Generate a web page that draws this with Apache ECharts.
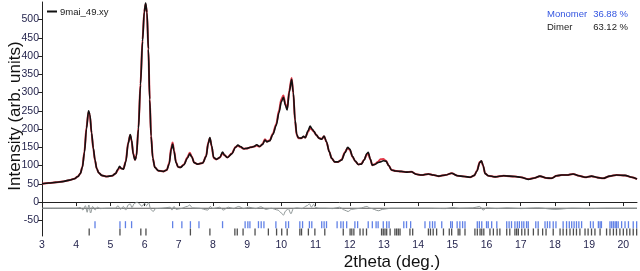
<!DOCTYPE html>
<html><head><meta charset="utf-8">
<script src="https://cdn.jsdelivr.net/npm/echarts@6/dist/echarts.min.js"></script>
<style>html,body{margin:0;padding:0;background:#fff}#c{width:640px;height:271px}</style>
</head><body><div id="c"></div>
<script>
const twoTheta = [3.00,3.20,3.40,3.60,3.80,3.95,4.05,4.12,4.18,4.24,4.30,4.36,4.40,4.45,4.50,4.55,4.60,4.66,4.75,4.90,5.05,5.15,5.22,5.27,5.32,5.38,5.45,5.52,5.58,5.62,5.67,5.72,5.76,5.82,5.88,5.94,5.99,6.03,6.07,6.11,6.15,6.19,6.24,6.30,6.40,6.55,6.65,6.72,6.78,6.82,6.86,6.92,6.98,7.05,7.15,7.25,7.32,7.38,7.45,7.55,7.70,7.80,7.86,7.91,7.96,8.02,8.10,8.20,8.28,8.34,8.42,8.55,8.66,8.73,8.80,8.90,9.00,9.10,9.20,9.28,9.36,9.45,9.52,9.58,9.66,9.75,9.85,9.93,10.00,10.06,10.12,10.17,10.23,10.30,10.35,10.40,10.45,10.50,10.58,10.65,10.70,10.78,10.84,10.90,10.95,11.02,11.10,11.18,11.25,11.32,11.40,11.47,11.56,11.66,11.76,11.86,11.94,12.00,12.08,12.16,12.25,12.34,12.42,12.50,12.54,12.60,12.66,12.74,12.82,12.90,12.98,13.06,13.14,13.22,13.35,13.50,13.65,13.80,13.95,14.10,14.30,14.45,14.60,14.80,14.98,15.15,15.35,15.52,15.64,15.72,15.80,15.85,15.90,15.96,16.05,16.25,16.50,16.83,17.00,17.22,17.40,17.56,17.75,17.90,18.05,18.20,18.35,18.53,18.70,18.88,19.07,19.25,19.41,19.60,19.80,20.05,20.25,20.40];
const observed = [50,52,54,56,60,64,70,78,95,135,200,250,240,190,148,115,92,80,73,70,72,78,90,98,92,90,110,160,185,170,130,115,125,200,320,440,520,545,520,420,280,180,120,95,86,84,88,105,145,159,140,108,96,95,102,120,132,124,108,104,107,125,160,177,155,122,117,122,137,128,122,132,150,156,152,146,147,150,152,157,152,158,170,165,168,185,210,245,275,287,265,252,300,336,300,225,185,176,175,180,176,195,208,200,194,184,175,172,181,165,138,120,110,110,115,135,150,145,125,112,103,104,115,133,136,118,101,103,108,110,113,112,100,88,85,84,82,83,76,74,77,74,71,74,79,72,70,68,73,85,108,113,100,78,72,69,72,70,68,62,66,71,66,65,72,74,74,77,72,68,71,67,65,71,74,73,68,63];
const calculated = [50,52,54,56,60,64,70,78,96,138,204,247,238,188,146,114,92,80,73,70,72,78,88,95,92,91,112,163,183,168,132,116,127,204,325,445,522,542,518,418,282,182,121,95,86,84,88,107,150,163,142,109,96,95,103,122,135,125,108,104,107,126,163,175,153,121,117,122,134,128,122,133,151,154,151,146,147,150,152,155,152,159,172,166,169,187,214,250,282,292,268,256,305,340,297,222,183,175,175,179,177,192,203,198,193,184,175,173,180,164,138,120,110,110,116,137,148,143,124,112,103,105,116,130,133,117,101,104,110,117,118,113,100,88,85,84,82,83,76,74,77,74,71,74,79,72,70,68,73,86,110,112,99,78,72,69,72,70,68,63,66,71,66,65,72,74,74,77,72,68,71,67,65,71,74,73,68,63];
const diffTheta = [3.00,3.50,4.00,4.12,4.20,4.27,4.32,4.37,4.42,4.48,4.55,4.62,4.70,4.90,5.15,5.22,5.30,5.38,5.45,5.52,5.58,5.63,5.70,5.78,5.85,5.92,6.00,6.06,6.12,6.18,6.25,6.32,6.50,6.75,6.80,6.86,6.92,7.05,7.25,7.32,7.40,7.60,7.85,7.92,8.00,8.20,8.30,8.45,8.60,8.75,8.90,9.05,9.25,9.40,9.55,9.70,9.90,10.00,10.06,10.12,10.20,10.28,10.35,10.45,10.60,10.75,10.82,10.88,10.94,11.00,11.10,11.30,11.50,11.70,11.85,11.95,12.05,12.30,12.50,12.60,12.85,12.95,13.20,13.50,14.00,14.30,14.80,15.00,15.20,15.60,15.80,15.90,16.00,16.30,16.60,17.00,17.50,18.00,18.50,19.00,19.50,20.40];
const difference = [-17,-17,-17,-15,-22,-10,-28,-8,-30,-12,-22,-14,-18,-17,-17,-10,-20,-12,-22,-8,-5,-15,-4,0,-5,-12,-3,-10,-2,-20,-26,-18,-17,-14,-22,-12,-20,-18,-12,-8,-16,-17,-22,-12,-18,-14,-22,-14,-18,-12,-18,-14,-18,-13,-20,-17,-22,-30,-36,-25,-18,-32,-18,-16,-18,-10,-5,-14,-6,-15,-17,-17,-18,-14,-22,-26,-20,-17,-12,-17,-24,-20,-17,-17,-17,-17,-18,-15,-17,-16,-12,-22,-16,-18,-16,-18,-16,-20,-17,-18,-17,-17];
const monomerTicks = [4.55,5.28,5.44,5.62,6.82,7.09,7.34,7.59,8.28,8.94,9.02,9.08,9.33,9.41,9.49,9.84,10.13,10.21,10.54,10.62,10.82,10.89,11.18,11.25,11.32,11.63,11.74,11.81,11.91,12.15,12.23,12.54,12.66,12.77,12.83,12.98,13.08,13.15,13.58,13.66,13.78,14.20,14.34,14.42,14.49,14.69,14.95,15.00,15.14,15.22,15.30,15.37,15.73,15.79,15.86,16.00,16.05,16.15,16.30,16.59,16.66,16.73,16.83,16.90,16.96,17.03,17.09,17.17,17.22,17.44,17.51,17.71,17.78,17.85,17.95,18.03,18.24,18.34,18.42,18.49,18.56,18.63,18.70,18.78,19.04,19.12,19.27,19.32,19.36,19.61,19.66,19.71,19.76,19.80,19.85,19.95,20.05,20.15,20.29,20.39];
const dimerTicks = [4.38,5.28,5.89,6.04,7.34,7.91,8.64,8.71,8.88,9.23,9.62,9.86,10.01,10.17,10.54,10.59,10.79,10.98,11.27,11.81,12.01,12.06,12.12,12.30,12.39,12.49,12.93,12.98,13.03,13.08,13.18,13.32,13.37,13.42,13.47,13.76,13.84,14.30,14.36,14.44,14.54,14.74,14.91,14.98,15.17,15.22,15.37,15.66,15.73,15.81,15.86,15.92,16.10,16.20,16.31,16.39,16.59,16.68,16.83,16.88,16.93,17.03,17.12,17.22,17.37,17.51,17.64,17.74,17.95,18.15,18.24,18.34,18.44,18.54,18.63,18.73,18.88,18.97,19.07,19.17,19.32,19.51,19.61,19.71,19.80,19.90,20.00,20.10,20.19,20.29,20.39];
const xTickLabels = [3,4,5,6,7,8,9,10,11,12,13,14,15,16,17,18,19,20];
const yTickLabels = [-50,0,50,100,150,200,250,300,350,400,450,500];
const legendName = '9mai_49.xy';
const phases = [['Monomer','36.88 %'],['Dimer','63.12 %']];

const zip = (xs, ys) => xs.map((x, i) => [x, ys[i]]);
const chart = echarts.init(document.getElementById('c'), null, {renderer: 'canvas'});
const labelColor = '#26264f';
chart.setOption({
  animation: false,
  grid: {left: 42, right: 3, top: 2, bottom: 35},
  xAxis: {
    type: 'value', min: 3, max: 20.4,
    axisLine: {lineStyle: {color: '#222', width: 1}},
    axisTick: {length: 4, customValues: xTickLabels, lineStyle: {color: '#222'}},
    axisLabel: {customValues: xTickLabels, color: labelColor, fontSize: 10.5, fontFamily: 'Liberation Sans', margin: 4},
    splitLine: {show: false}
  },
  yAxis: {
    type: 'value', min: -93, max: 548,
    axisLine: {show: true, lineStyle: {color: '#222', width: 1}},
    axisTick: {show: true, length: 4, customValues: yTickLabels, lineStyle: {color: '#222'}},
    axisLabel: {customValues: yTickLabels, color: labelColor, fontSize: 10.5, fontFamily: 'Liberation Sans', margin: 3},
    splitLine: {show: false}
  },
  graphic: [
    {type: 'text', x: 15, y: 116, rotation: Math.PI / 2, style: {text: 'Intensity (arb. units)', font: '17px "Liberation Sans"', fill: '#111', align: 'center', verticalAlign: 'middle'}},
    {type: 'text', x: 392, y: 262, style: {text: '2theta (deg.)', font: '17px "Liberation Sans"', fill: '#111', align: 'center', verticalAlign: 'middle'}},
    {type: 'line', shape: {x1: 47, y1: 11.5, x2: 57, y2: 11.5}, style: {stroke: '#111', lineWidth: 2}},
    {type: 'text', x: 60, y: 12, style: {text: legendName, font: '9.5px "Liberation Sans"', fill: '#222', verticalAlign: 'middle'}},
    {type: 'text', x: 547, y: 14, style: {text: phases[0][0], font: '9.5px "Liberation Sans"', fill: '#3355e0', verticalAlign: 'middle'}},
    {type: 'text', x: 628, y: 14, style: {text: phases[0][1], font: '9.5px "Liberation Sans"', fill: '#3355e0', align: 'right', verticalAlign: 'middle'}},
    {type: 'text', x: 547, y: 27, style: {text: phases[1][0], font: '9.5px "Liberation Sans"', fill: '#222', verticalAlign: 'middle'}},
    {type: 'text', x: 628, y: 27, style: {text: phases[1][1], font: '9.5px "Liberation Sans"', fill: '#222', align: 'right', verticalAlign: 'middle'}}
  ],
  series: [
    {type: 'line', data: [[3, -17], [20.4, -17]], symbol: 'none', lineStyle: {color: '#555', width: 1}, z: 1},
    {type: 'line', data: zip(diffTheta, difference), symbol: 'none', smooth: 0.3, smoothMonotone: 'x', lineStyle: {color: '#8c9494', width: 1}, z: 2},
    {type: 'scatter', data: monomerTicks.map(x => [x, -62]), symbol: 'rect', symbolSize: [1.3, 7], itemStyle: {color: '#3a62e0'}},
    {type: 'scatter', data: dimerTicks.map(x => [x, -82]), symbol: 'rect', symbolSize: [1.3, 7], itemStyle: {color: '#222'}},
    {type: 'line', data: zip(twoTheta, calculated), symbol: 'none', smooth: 0.3, smoothMonotone: 'x', lineStyle: {color: '#e23848', width: 2}, z: 3},
    {type: 'line', data: zip(twoTheta, observed), symbol: 'none', smooth: 0.3, smoothMonotone: 'x', lineStyle: {color: '#111', width: 1.6}, z: 4}
  ]
});
</script></body></html>
